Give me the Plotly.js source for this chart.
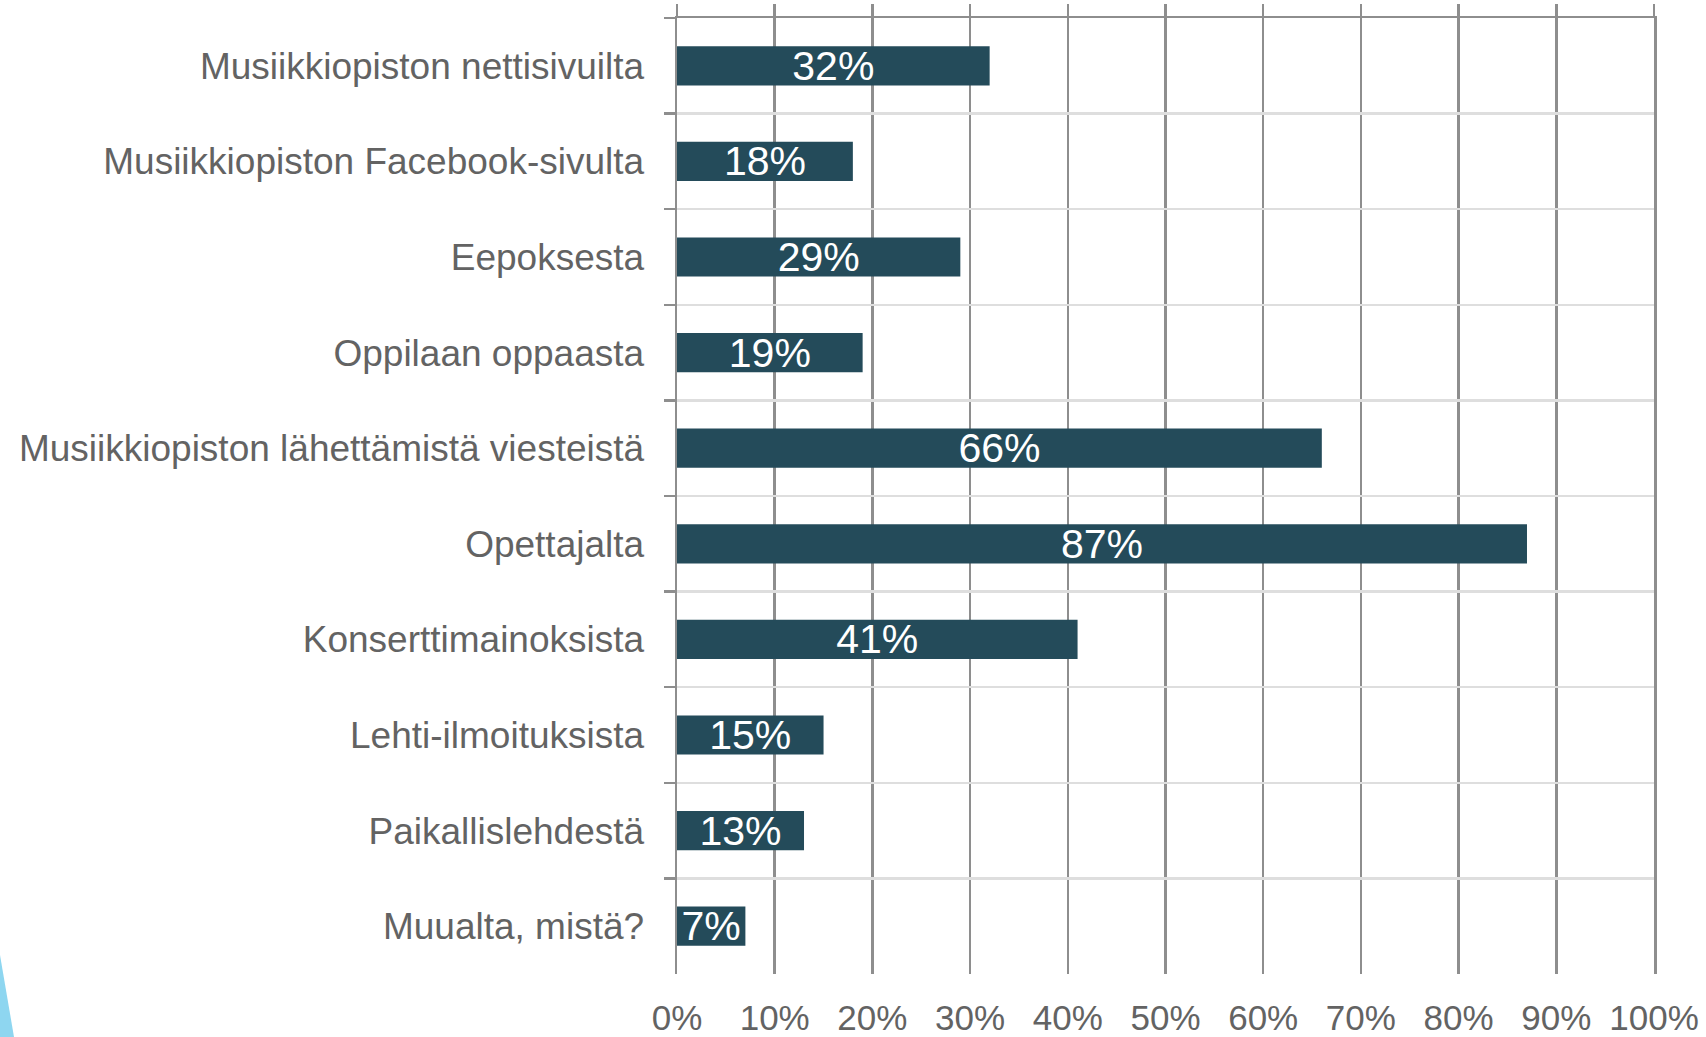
<!DOCTYPE html>
<html>
<head>
<meta charset="utf-8">
<script src="https://cdn.plot.ly/plotly-3.0.1.min.js"></script>
<style>
html,body{margin:0;padding:0;background:#fff;overflow:hidden;}
#chart{width:1706px;height:1037px;position:absolute;left:0;top:0;}
#deco{position:absolute;left:0;top:955px;width:14px;height:82px;background:#8ed6f0;clip-path:polygon(0 0,100% 100%,0 100%);}
</style>
</head>
<body>
<div id="chart"></div>
<div id="deco"></div>
<script>
const categories = [
  "Musiikkiopiston nettisivuilta",
  "Musiikkiopiston Facebook-sivulta",
  "Eepoksesta",
  "Oppilaan oppaasta",
  "Musiikkiopiston lähettämistä viesteistä",
  "Opettajalta",
  "Konserttimainoksista",
  "Lehti-ilmoituksista",
  "Paikallislehdestä",
  "Muualta, mistä?"
];
const values = [32, 18, 29, 19, 66, 87, 41, 15, 13, 7];
const tickValues = [0, 10, 20, 30, 40, 50, 60, 70, 80, 90, 100];
const tickLabels = ["0%", "10%", "20%", "30%", "40%", "50%", "60%", "70%", "80%", "90%", "100%"];

const axisGray = "#8e8e8e";
const gridLight = "#dedede";
const textGray = "#636363";
const font = "Liberation Sans, Arial, sans-serif";

const trace = {
  type: "bar",
  orientation: "h",
  x: values,
  y: categories,
  marker: {color: "#244b5a"},
  text: values.map(v => v + "%"),
  textposition: "inside",
  insidetextanchor: "middle",
  constraintext: "none",
  textangle: 0,
  insidetextfont: {color: "#ffffff", size: 41, family: font},
  hoverinfo: "x+y",
  cliponaxis: true
};

const layout = {
  width: 1706,
  height: 1037,
  margin: {l: 677, r: 52, t: 18, b: 63, pad: 0},
  paper_bgcolor: "#ffffff",
  plot_bgcolor: "#ffffff",
  showlegend: false,
  bargap: 0.59,
  font: {family: font, color: textGray},
  xaxis: {
    range: [0, 100],
    tickvals: tickValues,
    ticktext: tickLabels,
    showgrid: true,
    gridcolor: axisGray,
    gridwidth: 2.5,
    zeroline: false,
    showline: false,
    ticks: "",
    ticklabelstandoff: 20,
    tickfont: {size: 35, color: textGray, family: font},
    fixedrange: true
  },
  xaxis2: {
    overlaying: "x",
    side: "top",
    range: [0, 100],
    tickvals: tickValues,
    showticklabels: false,
    showgrid: false,
    zeroline: false,
    showline: true,
    linecolor: axisGray,
    linewidth: 2.5,
    ticks: "outside",
    ticklen: 12,
    tickwidth: 2.5,
    tickcolor: axisGray
  },
  yaxis: {
    type: "category",
    autorange: "reversed",
    tickson: "boundaries",
    ticks: "outside",
    ticklen: 11,
    tickwidth: 2.5,
    tickcolor: axisGray,
    showline: true,
    mirror: true,
    linecolor: axisGray,
    linewidth: 2.5,
    showgrid: true,
    gridcolor: gridLight,
    gridwidth: 2.5,
    zeroline: false,
    ticklabelstandoff: 23,
    tickfont: {size: 37, color: textGray, family: font},
    fixedrange: true
  }
};

const topAxisTrace = {
  type: "scatter",
  x: [],
  y: [],
  xaxis: "x2",
  yaxis: "y",
  hoverinfo: "skip",
  showlegend: false
};

Plotly.newPlot("chart", [trace, topAxisTrace], layout, {displayModeBar: false, staticPlot: true});
</script>
</body>
</html>
